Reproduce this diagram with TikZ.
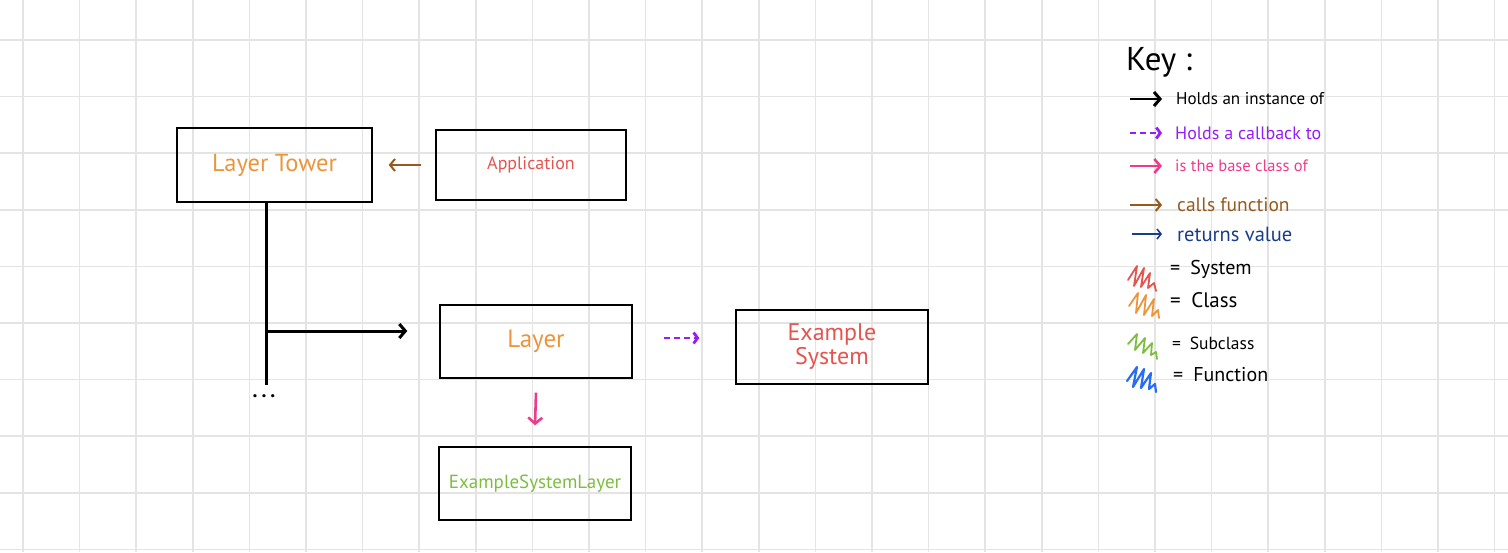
\documentclass[tikz,border=0pt]{standalone}
\usepackage{fontspec}
\setmainfont{PT Sans}
\usetikzlibrary{arrows.meta,positioning}
\definecolor{gridgray}{RGB}{228,228,228}
\definecolor{myorange}{RGB}{235,150,60}
\definecolor{myred}{RGB}{228,85,80}
\definecolor{mygreen}{RGB}{125,190,65}
\definecolor{mypurple}{RGB}{150,30,245}
\definecolor{mypink}{RGB}{238,60,140}
\definecolor{mybrown}{RGB}{150,90,30}
\definecolor{mynavy}{RGB}{25,60,140}
\definecolor{myblue}{RGB}{40,110,245}

\begin{document}
\begin{tikzpicture}[x=1pt,y=-1pt,
  box/.style={draw,line width=1.4pt,inner sep=0pt,minimum height=73pt,minimum width=192pt},
  holds/.style={line width=3pt,-{Straight Barb[length=6pt,width=14pt,line width=3pt]}},
  callback/.style={mypurple,line width=2.8pt,dash pattern=on 6pt off 4pt,-{Straight Barb[length=4pt,width=11pt,line width=2.8pt]}},
  base/.style={mypink,line width=2.6pt,-{Straight Barb[length=6pt,width=14pt,line width=2.6pt]}},
  calls/.style={mybrown,line width=2pt,-{Straight Barb[length=5pt,width=12pt,line width=2pt]}},
  returns/.style={mynavy,line width=1.6pt,-{Straight Barb[length=4pt,width=10pt,line width=1.6pt]}},
  keytext/.style={anchor=west,inner sep=0pt},
  scribble/.style={line width=1.8pt,line join=round,line cap=round}]

  % paper
  \fill[white] (0,0) rectangle (1508,552);
  \useasboundingbox (0,0) rectangle (1508,552);
  \foreach \i in {0,...,26}
    \draw[gridgray,line width=1.5pt] (23+56.6*\i,0) -- (23+56.6*\i,552);
  \foreach \j in {0,...,9}
    \draw[gridgray,line width=1.5pt] (0,40+56.6*\j) -- (1508,40+56.6*\j);

  % classes
  \node[box,minimum width=195pt,minimum height=74pt,text=myorange,font=\fontsize{24.5}{26}\selectfont] (tower) at (274.5,165) {Layer Tower};
  \node[box,minimum width=190pt,minimum height=70pt,text=myred,font=\fontsize{18}{20}\selectfont] (app) at (531,165) {Application};
  \node[box,text=myorange,font=\fontsize{25}{27}\selectfont] (layer) at (536,341.5) {Layer};
  \node[box,minimum height=74pt,text=myred,align=center,font=\fontsize{24}{24}\selectfont] (sys) at (832,347) {Example\\System};
  \node[box,text=mygreen,font=\fontsize{19}{21}\selectfont] (sub) at (535,483.5) {ExampleSystemLayer};

  \coordinate (trunk) at (266,385);
  \coordinate (branch) at (266,331);
  \node[font=\fontsize{20}{20}\selectfont\bfseries] (more) at (264,396) {.\hspace{4pt}.\hspace{4pt}.};

  \draw[line width=3pt] (tower.south -| trunk) -- (trunk);
  \draw[holds] (branch) -- ([xshift=-32pt]layer.west |- branch);
  \draw[calls] ([xshift=-14pt]app.west) -- ([xshift=16pt]tower.east);
  \draw[base] ([yshift=-14pt]layer.south) -- ([yshift=21pt]sub.north);
  \draw[callback] ([xshift=31pt,yshift=3.5pt]layer.east) -- ([xshift=-36pt,yshift=9pt]sys.west);

  % key
  \node[keytext,font=\fontsize{33}{33}\selectfont] (key) at (1126,62) {Key :};
  \coordinate (k1) at (1130,99);
  \coordinate (k2) at (1130,133);
  \coordinate (k3) at (1130,166);
  \coordinate (k4) at (1130,205);
  \coordinate (k5) at (1132,234);
  \draw[holds,line width=2.6pt] (k1) -- ++(32,0);
  \draw[callback,line width=2.5pt] (k2) -- ++(32,0);
  \draw[base,line width=2pt] (k3) -- ++(32,0);
  \draw[calls] (k4) -- ++(32,0);
  \draw[returns] (k5) -- ++(30,0);
  \node[keytext,font=\fontsize{17}{17}\selectfont] (t1) at (1176,99) {Holds an instance of};
  \node[keytext,text=mypurple,font=\fontsize{18}{18}\selectfont] (t2) at (1175,133) {Holds a callback to};
  \node[keytext,text=mypink,font=\fontsize{16.5}{16}\selectfont] (t3) at (1175,166) {is the base class of};
  \node[keytext,text=mybrown,font=\fontsize{19.5}{19}\selectfont] (t4) at (1177,205) {calls function};
  \node[keytext,text=mynavy,font=\fontsize{20.5}{20}\selectfont] (t5) at (1177,234) {returns value};

  \draw[scribble,myred] (1128,280) -- ++(9,-14) -- ++(-3,20) -- ++(10,-18) -- ++(-3,19) -- ++(9,-14) -- ++(-2,15) -- ++(6,-5) -- ++(2,8);
  \draw[scribble,myorange] (1129,306) -- ++(9,-13) -- ++(-2,20) -- ++(10,-18) -- ++(-2,20) -- ++(10,-16) -- ++(-2,17) -- ++(6,-6) -- ++(1,8);
  \draw[scribble,mygreen] (1128,344) -- ++(9,-10) -- ++(-2,16) -- ++(10,-12) -- ++(-2,15) -- ++(9,-10) -- ++(-1,12) -- ++(5,-3) -- ++(1,7);
  \draw[scribble,myblue,line width=2.2pt] (1127,381) -- ++(10,-14) -- ++(-4,20) -- ++(11,-18) -- ++(-3,19) -- ++(10,-15) -- ++(-2,16) -- ++(6,-5) -- ++(1,8);
  \node[keytext,font=\fontsize{20}{20}\selectfont] (s1) at (1170,269) {=\enspace System};
  \node[keytext,font=\fontsize{21}{21}\selectfont] (s2) at (1170,300) {=\enspace Class};
  \node[keytext,font=\fontsize{17.5}{17}\selectfont] (s3) at (1172,343) {=\enspace Subclass};
  \node[keytext,font=\fontsize{20}{20}\selectfont] (s4) at (1173,375) {=\enspace Function};

\end{tikzpicture}
\end{document}
